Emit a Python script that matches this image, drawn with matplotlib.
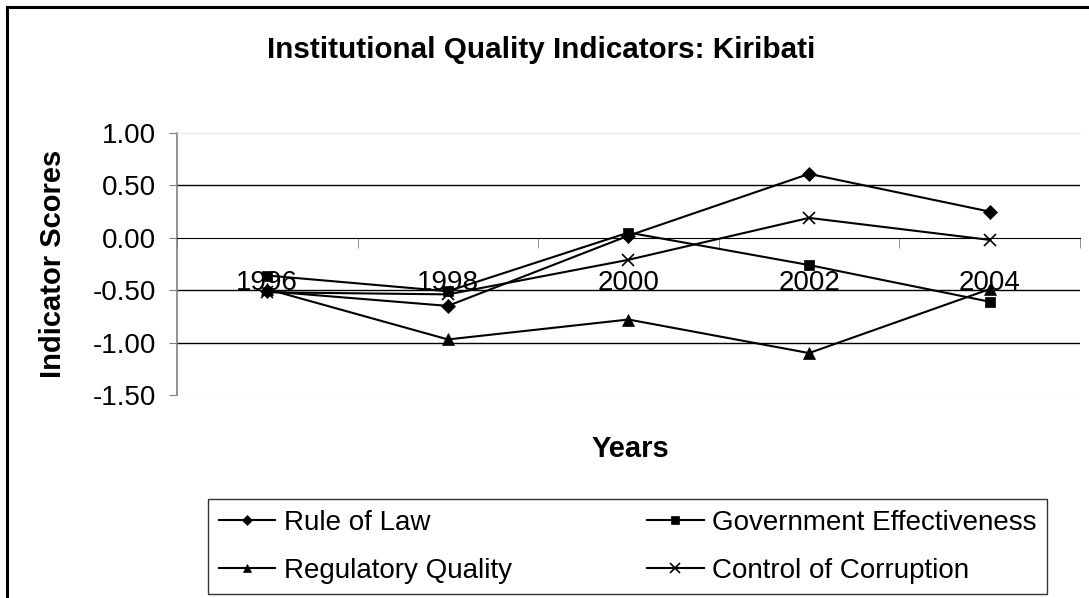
import numpy as np
import matplotlib
matplotlib.use('Agg')
import matplotlib.pyplot as plt
from matplotlib.lines import Line2D

plt.rcParams['font.family'] = ['Liberation Sans', 'DejaVu Sans']

years = ['1996', '1998', '2000', '2002', '2004']
rule_of_law = [-0.51, -0.65, 0.02, 0.61, 0.25]
gov_effectiveness = [-0.36, -0.51, 0.05, -0.26, -0.61]
regulatory_quality = [-0.49, -0.97, -0.78, -1.10, -0.49]
control_corruption = [-0.52, -0.54, -0.21, 0.19, -0.02]

series = [
	('Rule of Law', rule_of_law, 'D', 7),
	('Government Effectiveness', gov_effectiveness, 's', 7),
	('Regulatory Quality', regulatory_quality, '^', 8),
	('Control of Corruption', control_corruption, 'x', 9),
]

fig = plt.figure(figsize=(10.89, 5.98), dpi=100)
# outer chart border (left and top only visible)
fig.lines.append(Line2D([0.006, 0.006], [0.0, 0.989], transform=fig.transFigure,
	color='black', linewidth=2.2))
fig.lines.append(Line2D([0.006, 1.0], [0.989, 0.989], transform=fig.transFigure,
	color='black', linewidth=2.2))

ax = fig.add_axes([0.1625, 0.3395, 0.8292, 0.4381])
x = np.arange(len(years))
lines = {}
for name, vals, marker, ms in series:
	lines[name], = ax.plot(x, vals, color='black', linewidth=1.5, marker=marker, markersize=ms,
		markeredgewidth=1.2 if marker == 'x' else 0.5, label=name, zorder=3)

ax.set_xlim(-0.5, len(years) - 0.5)
ax.set_ylim(-1.5, 1.0)
yt = np.arange(-1.5, 1.01, 0.5)
ax.set_yticks(yt)
ax.set_yticklabels(['%.2f' % v for v in yt], fontsize=20)
for v in [-1.0, -0.5, 0.5]:
	ax.axhline(v, color='black', linewidth=1.0, zorder=1)

ax.spines['bottom'].set_position(('data', 0))
ax.spines['bottom'].set_color('black')
ax.spines['top'].set_color('#e6e6e6')
ax.spines['right'].set_visible(False)
ax.spines['left'].set_color('#808080')
ax.spines['left'].set_linewidth(1.2)

ax.set_xticks(x)
ax.set_xticklabels(years, fontsize=20)
ax.set_xticks(np.arange(-0.5, len(years), 1.0), minor=True)
ax.tick_params(axis='x', which='major', length=0, pad=23)
ax.tick_params(axis='x', which='minor', length=7, color='#808080', direction='out')
ax.tick_params(axis='y', length=6, color='#808080', pad=9)

# light bottom border of plot area
ax.axhline(-1.5, color='#e6e6e6', linewidth=1.0, zorder=0)

fig.text(0.049, 0.5585, 'Indicator Scores', fontsize=21, fontweight='bold', rotation=90,
	ha='center', va='center')
fig.text(0.5785, 0.2358, 'Years', fontsize=21, fontweight='bold', ha='center', va='baseline')
fig.text(0.497, 0.903, 'Institutional Quality Indicators: Kiribati', fontsize=21.3,
	fontweight='bold', ha='center', va='baseline')

order = ['Rule of Law', 'Regulatory Quality', 'Government Effectiveness', 'Control of Corruption']
leg = fig.legend([lines[n] for n in order], order, loc='upper left',
	bbox_to_anchor=(0.191, 0.0067, 0.7704, 0.1589), mode='expand', ncol=2, fontsize=20,
	frameon=True, fancybox=False, handlelength=2.05, handletextpad=0.3, borderaxespad=0,
	labelspacing=0.8, borderpad=0.38, markerscale=0.75)
leg.get_frame().set_edgecolor('black')
leg.get_frame().set_linewidth(1.0)

fig.savefig('out.png', dpi=100)
